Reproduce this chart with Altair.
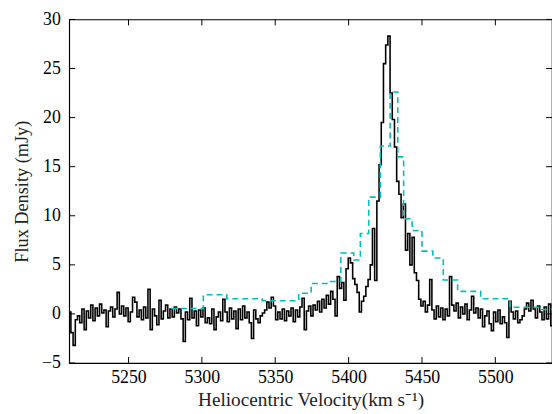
import altair as alt
import pandas as pd

# High-resolution spectrum (black), regular channel grid
hi_start = 5210.0
hi_width = 1.5
hi_flux = [
    0.2, -1.9, -3.2, -0.6, -0.2, -0.9, 0.5, -1.6, 0.3, -0.4,
    0.9, -0.7, 0.6, -0.2, 1.0, 0.1, 0.4, -1.3, 0.3, 0.7,
    -0.3, 0.5, 2.2, 0.0, 0.8, -0.2, 0.6, -0.8, 0.2, 1.7,
    1.2, -0.3, 0.4, -0.6, 0.7, -0.4, 2.5, -1.6, 0.5, -0.2,
    -1.1, 1.4, -0.5, 0.3, 0.9, -0.4, 0.5, -0.3, 0.7, 0.1,
    0.5, -0.5, -2.8, 0.2, -0.6, 1.6, -0.4, 0.3, -1.2, 0.4,
    -0.3, 0.6, -0.9, -0.4, -1.0, 0.5, -1.6, -0.3, 0.2, -0.7,
    1.5, 0.2, -0.8, 0.6, -0.5, 0.3, -1.5, 0.5, -0.6, 0.8,
    -0.4, 0.2, -0.9, -2.5, 0.4, -0.5, -0.9, -0.2, 0.1, 0.4,
    1.2, 0.6, 1.7, 0.8, -0.6, 0.2, -0.5, 0.5, -0.7, 0.3,
    -0.2, 0.6, -0.8, 0.4, -0.3, 0.7, 1.6, -1.6, 0.3, 0.8,
    -0.2, 0.9, 0.4, 1.3, 0.2, 1.5, 0.6, 1.9, 1.0, 2.3,
    1.5, -0.2, 3.8, 2.6, 3.2, 1.4, 4.6, 5.7, 5.2, 3.6,
    3.0, 2.2, 0.2, 1.3, 1.8, 2.8, 3.5, 5.0, 8.7, 3.4,
    11.5, 15.2, 19.5, 25.5, 27.4, 28.3, 22.5, 19.8, 17.0, 13.5,
    12.2, 9.8, 11.2, 6.5, 8.2, 5.0, 7.8, 4.2, 3.4, 1.5,
    0.8, 1.3, 0.2, 0.9, 3.5, 0.4, -0.5, 0.8, -0.3, 0.6,
    -0.6, 0.5, -0.2, 3.8, 0.9, 0.3, 1.1, -0.4, 0.7, 0.0,
    1.0, -0.6, 0.4, 1.8, 0.1, 0.6, -0.4, 0.5, -1.3, -0.2,
    0.3, -1.0, -1.7, 0.2, -0.8, 0.4, -1.0, -0.3, -0.9, -2.4,
    1.3, 0.2, -0.5, 0.3, -0.9, -0.6, -0.2, 0.5, 1.1, 0.3,
    1.4, 0.5, -0.4, 0.8, 0.2, -0.6, 0.7, -0.5, 1.0, -1.2,
    0.3,
]
hi_vel = [hi_start + hi_width * i for i in range(len(hi_flux))]

# Low-resolution spectrum (cyan dashed): bin edges and bin values
lo_edges = [5279, 5301, 5317, 5341, 5366, 5374.5, 5386.5, 5394.7, 5403.5, 5408,
            5413.7, 5421.6, 5428.3, 5433.5, 5437.5, 5443.3, 5450, 5457.4, 5464.5,
            5474.3, 5490, 5510, 5530.5, 5540]
lo_flux = [0.55, 1.95, 1.55, 1.35, 2.1, 3.1, 3.3, 6.2, 5.5, 8.2,
           11.9, 17.1, 22.6, 16.0, 9.7, 8.5, 6.4, 5.7, 3.45,
           2.3, 1.55, 0.68, 0.45]

x_ticks = [5250, 5300, 5350, 5400, 5450, 5500]
y_ticks = [-5, 0, 5, 10, 15, 20, 25, 30]

hi_df = pd.DataFrame({"vel": hi_vel, "flux": hi_flux})
lo_df = pd.DataFrame({"vel": lo_edges, "flux": lo_flux + [lo_flux[-1]]})
xt_df = pd.DataFrame({"vel": x_ticks})
yt_df = pd.DataFrame({"flux": y_ticks})

W, H = 489, 348
TL = 6
FONT = "Liberation Serif"

xscale = alt.Scale(domain=[5209.6, 5538.6], nice=False, zero=False)
yscale = alt.Scale(domain=[-5, 30], nice=False, zero=False)

xaxis = alt.Axis(values=x_ticks, ticks=False, domain=False, grid=False,
                 labelFont=FONT, labelFontSize=18, labelPadding=6, labelColor="black",
                 labelFlush=False, format="d",
                 title="Heliocentric Velocity(km s⁻¹)", titleFont=FONT, titleFontSize=19.5,
                 titleFontWeight="normal", titleColor="#222222", titlePadding=4)
yaxis = alt.Axis(values=y_ticks, ticks=False, domain=False, grid=False,
                 labelFont=FONT, labelFontSize=18, labelPadding=9, labelColor="black",
                 labelFlush=False, format="d",
                 title="Flux Density (mJy)", titleFont=FONT, titleFontSize=18.5,
                 titleFontWeight="normal", titleColor="#222222", titlePadding=10)

X = alt.X("vel:Q", scale=xscale, axis=xaxis)
Y = alt.Y("flux:Q", scale=yscale, axis=yaxis)

black = alt.Chart(hi_df).mark_line(color="black", strokeWidth=1.6, interpolate="step",
                                   clip=True).encode(x=X, y=Y)

cyan = alt.Chart(lo_df).mark_line(color="#00BFBF", strokeWidth=1.6, strokeDash=[6, 4],
                                  interpolate="step-after", clip=True).encode(x=X, y=Y)

tick_top = alt.Chart(xt_df).mark_rule(color="black", strokeWidth=1).encode(
    x=X, y=alt.value(0), y2=alt.value(TL))
tick_bot = alt.Chart(xt_df).mark_rule(color="black", strokeWidth=1).encode(
    x=X, y=alt.value(H), y2=alt.value(H - TL))
tick_left = alt.Chart(yt_df).mark_rule(color="black", strokeWidth=1).encode(
    y=Y, x=alt.value(0), x2=alt.value(TL))
tick_right = alt.Chart(yt_df).mark_rule(color="black", strokeWidth=1).encode(
    y=Y, x=alt.value(W), x2=alt.value(W - TL))

chart = alt.layer(black, cyan, tick_top, tick_bot, tick_left, tick_right).properties(
    width=W, height=H,
    autosize=alt.AutoSizeParams(type="none"),
    padding={"left": 62, "top": 9, "right": 0, "bottom": 45},
    background="white",
).configure_view(stroke="black", strokeWidth=1.2)

chart.save("out.html", embed_options={"renderer": "svg", "actions": False})
